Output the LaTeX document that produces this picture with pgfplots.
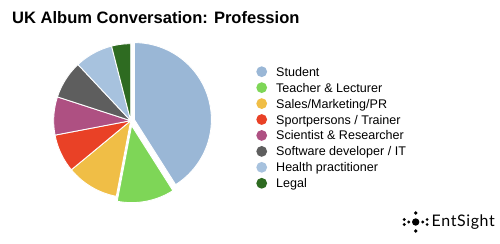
\documentclass[border=0pt]{standalone}
\usepackage{fontspec}
\setmainfont{Liberation Sans}
\newfontfamily\logofont[LetterSpace=4]{Lato}
\usepackage{pgfplots}
\usepackage{pgfplotstable}
\pgfplotsset{compat=1.18}

\definecolor{slice0}{RGB}{154,183,214}
\definecolor{slice1}{RGB}{126,214,87}
\definecolor{slice2}{RGB}{240,190,70}
\definecolor{slice3}{RGB}{233,65,38}
\definecolor{slice4}{RGB}{174,80,130}
\definecolor{slice5}{RGB}{94,94,94}
\definecolor{slice6}{RGB}{167,194,222}
\definecolor{slice7}{RGB}{46,107,33}

% value = share in percent, explode = offset in radius units
\pgfplotstableread{
value explode
41 0.05
12 0.065
11 0
8 0
8 0
8 0
8 0
4 0
}\piedata

\begin{document}
\begin{tikzpicture}
\useasboundingbox (0,0) rectangle (500bp,244bp);

\node[anchor=base west, inner sep=0pt, font=\fontsize{16.6}{19}\selectfont\bfseries] at (12bp,220bp) {UK Album Conversation: Profession};

\begin{axis}[
  at={(130.7bp,123.3bp)}, anchor=center,
  x=77bp, y=77bp,
  xmin=-1.2, xmax=1.2, ymin=-1.2, ymax=1.2,
  hide axis, clip=false,
]
\pgfmathsetmacro\cum{0}
\pgfplotsforeachungrouped \i in {0,...,7}{%
  \pgfplotstablegetelem{\i}{value}\of\piedata
  \let\val\pgfplotsretval
  \pgfplotstablegetelem{\i}{explode}\of\piedata
  \let\expl\pgfplotsretval
  \pgfmathsetmacro\start{90-3.6*\cum}%
  \pgfmathsetmacro\stop{90-3.6*(\cum+\val)}%
  \pgfmathsetmacro\mid{(\start+\stop)/2}%
  \pgfmathsetmacro\dx{\expl*cos(\mid)}%
  \pgfmathsetmacro\dy{\expl*sin(\mid)}%
  \edef\doplot{\noexpand\addplot[fill=slice\i, draw=white, line width=0.9pt, line join=round, domain=\stop:\start, samples=80, variable=\noexpand\t] ({\dx+cos(\noexpand\t)},{\dy+sin(\noexpand\t)}) -- (axis cs:\dx,\dy) -- cycle;}%
  \doplot
  \pgfmathsetmacro\cum{\cum+\val}%
}
\end{axis}

% legend
\foreach \lab [count=\k from 0] in {Student,Teacher \& Lecturer,Sales/Marketing/PR,Sportpersons / Trainer,Scientist \& Researcher,Software developer / IT,Health practitioner,Legal}{
  \pgfmathsetmacro\yy{244-71.7-15.94*\k}
  \fill[slice\k] (261.7bp,\yy bp) circle (5.4bp);
  \node[anchor=base west, inner sep=0pt, font=\fontsize{12.6}{15}\selectfont] at (276bp,\yy bp-4.5bp) {\lab};
}

% logo
\fill[black] (415.7bp,22bp) circle (3.7bp);
\foreach \p in {(415.7bp,31bp),(415.7bp,13bp)} \fill[black] \p circle (1.8bp);
\foreach \p in {(404.3bp,24.5bp),(404.3bp,19.5bp),(427.1bp,24.5bp),(427.1bp,19.5bp),(408.7bp,22bp),(422.7bp,22bp)} \fill[black] \p circle (1.6bp);
\node[anchor=west, inner sep=0pt, font=\logofont\fontsize{16}{18}\selectfont] at (431.5bp,22bp) {EntSight};
\end{tikzpicture}
\end{document}
